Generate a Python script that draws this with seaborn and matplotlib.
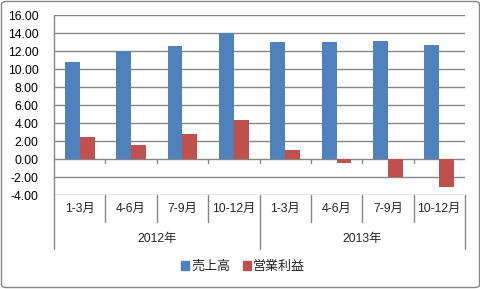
import matplotlib
matplotlib.use("Agg")
import matplotlib.pyplot as plt
import seaborn as sns
import pandas as pd
from matplotlib.patches import FancyBboxPatch, Patch
from matplotlib.ticker import FormatStrFormatter

months = ["1-3月", "4-6月", "7-9月", "10-12月", "1-3月", "4-6月", "7-9月", "10-12月"]
years = ["2012年", "2013年"]
sales = [10.78, 12.03, 12.55, 14.03, 13.0, 13.0, 13.1, 12.7]
profit = [2.48, 1.56, 2.78, 4.33, 1.0, -0.45, -2.0, -3.1]
series_names = ["売上高", "営業利益"]
colors = ["#4F81BD", "#C0504D"]

sns.set_theme(style="white")
plt.rcParams["font.family"] = ["Liberation Sans", "Noto Sans CJK JP", "DejaVu Sans"]
plt.rcParams["axes.unicode_minus"] = False

keys = [f"{i}" for i in range(len(months))]
df = pd.DataFrame({
    "cat": keys * 2,
    "value": sales + profit,
    "series": [series_names[0]] * len(keys) + [series_names[1]] * len(keys),
})

fig = plt.figure(figsize=(4.81, 2.89), dpi=100)
W, H = 481, 289
ax = fig.add_axes([54 / W, 1 - 195 / H, (465 - 54) / W, 180 / H])

sns.barplot(data=df, x="cat", y="value", hue="series", order=keys,
            hue_order=series_names, palette=colors, width=0.58,
            saturation=1, ax=ax, legend=False, linewidth=0)

grid = "#868686"
fs = 8.8
ax.set_ylim(-4, 16)
ax.set_xlim(-0.5, len(keys) - 0.5)
ax.set_yticks(range(-4, 17, 2))
ax.yaxis.set_major_formatter(FormatStrFormatter("%.2f"))
ax.set_axisbelow(True)
ax.grid(axis="y", color=grid, linewidth=1)
ax.set_xlabel("")
ax.set_ylabel("")
ax.set_xticks([])
for s in ["top", "right", "bottom", "left"]:
    ax.spines[s].set_visible(False)
ax.tick_params(axis="y", length=0, labelsize=fs, pad=11, colors="black")

# zero-line ticks
for b in [i + 0.5 for i in range(len(keys) - 1)]:
    ax.plot([b, b], [0, -0.45], color=grid, linewidth=1, clip_on=False)

tr = ax.get_xaxis_transform()
ax.plot([-0.5, -0.5], [1.0, -0.3], transform=tr, color=grid, lw=1, clip_on=False)
for i in range(1, len(keys)):
    b = i - 0.5
    ylow = -0.3 if i == 4 else -0.15
    ax.plot([b, b], [0, ylow], transform=tr, color=grid, lw=1, clip_on=False)
ax.plot([7.5, 7.5], [0, -0.3], transform=tr, color=grid, lw=1, clip_on=False)

for i, m in enumerate(months):
    ax.text(i, -0.078, m, transform=tr, ha="center", va="center", fontsize=fs)
for j, y in enumerate(years):
    ax.text(j * 4 + 1.5, -0.244, y, transform=tr, ha="center", va="center", fontsize=fs)

handles = [Patch(color=c, label=n) for c, n in zip(colors, series_names)]
fig.legend(handles=handles, loc="center", bbox_to_anchor=(243 / W, 1 - 267 / H),
           ncol=2, frameon=False, fontsize=fs + 0.6, handlelength=0.6, handleheight=0.6,
           handletextpad=0.15, columnspacing=1.0)

border = FancyBboxPatch((1.5 / W, 1.5 / H), (W - 3) / W, (H - 3) / H,
                        boxstyle="round,pad=0,rounding_size=0.01",
                        transform=fig.transFigure, fill=False,
                        edgecolor=grid, linewidth=1)
fig.patches.append(border)

fig.savefig("out.png", dpi=100)
